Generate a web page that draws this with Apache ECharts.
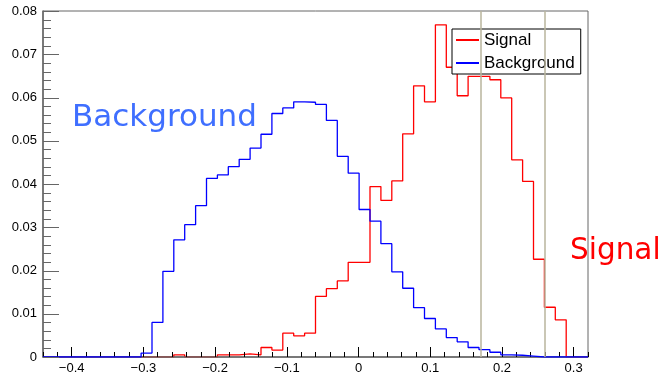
<!DOCTYPE html>
<html>
<head>
<meta charset="utf-8">
<script src="https://cdn.jsdelivr.net/npm/echarts@6/dist/echarts.min.js"></script>
<style>
  html, body { margin: 0; padding: 0; background: #fff; }
  #chart { width: 663px; height: 375px; }
</style>
</head>
<body>
<div id="chart"></div>
<script>
// Histogram binning: 50 bins on [-0.44, 0.32]
const X_MIN = -0.44;
const X_MAX = 0.32;
const N_BINS = 50;

// Bin contents (normalised), one entry per bin, left to right
const signal = [
  0, 0, 0, 0, 0, 0, 0, 0, 0, 0,
  0, 0, 0.0005, 0, 0, 0, 0.0005, 0.0005, 0.0007, 0.0005,
  0.0022, 0.0016, 0.0055, 0.0049, 0.0055, 0.0140, 0.0158, 0.0176, 0.0219, 0.0219,
  0.0394, 0.0362, 0.0407, 0.0516, 0.0627, 0.0590, 0.0768, 0.0670, 0.0604, 0.0649,
  0.0649, 0.0641, 0.0599, 0.0456, 0.0406, 0.0226, 0.0115, 0.0086, 0, 0
];
const background = [
  0, 0, 0, 0, 0, 0, 0, 0, 0, 0.0009,
  0.0080, 0.0198, 0.0271, 0.0306, 0.0350, 0.0413, 0.0421, 0.0440, 0.0457, 0.0483,
  0.0515, 0.0563, 0.0576, 0.0590, 0.0589, 0.0584, 0.0547, 0.0464, 0.0425, 0.0341,
  0.0314, 0.0262, 0.0197, 0.0159, 0.0114, 0.0089, 0.0065, 0.0045, 0.0035, 0.0022,
  0.0017, 0.0011, 0.0005, 0.0004, 0.0002, 0, 0, 0, 0, 0
];

// Cut positions
const cuts = [0.168, 0.258];

// Axis tick labels
const xTicks = [-0.4, -0.3, -0.2, -0.1, 0, 0.1, 0.2, 0.3];
const yTicks = [0, 0.01, 0.02, 0.03, 0.04, 0.05, 0.06, 0.07, 0.08];

const binWidth = (X_MAX - X_MIN) / N_BINS;

// Step-line points: one per bin low edge, plus the final upper edge
function toSteps(values) {
  const pts = values.map((v, i) => [X_MIN + i * binWidth, v]);
  pts.push([X_MAX, values[values.length - 1]]);
  return pts;
}

// Minor x ticks every 0.02, skipping the labelled ones
const xMinor = [];
for (let i = -22; i <= 16; i++) {
  if (i % 5 !== 0) xMinor.push(i / 50);
}
// Minor y ticks every 0.002, skipping the labelled ones
const yMinor = [];
for (let i = 1; i < 40; i++) {
  if (i % 5 !== 0) yMinor.push(i / 500);
}

const chart = echarts.init(document.getElementById('chart'), null, { renderer: 'canvas' });

const axisColor = '#666';
const labelFont = { fontFamily: 'Liberation Sans', fontSize: 13, color: '#000' };

chart.setOption({
  animation: false,
  backgroundColor: '#fff',
  grid: {
    left: 43, right: 75, top: 11, bottom: 17,
    show: true, borderColor: axisColor, borderWidth: 1, backgroundColor: 'transparent'
  },
  xAxis: [
    {
      type: 'value', min: X_MIN, max: X_MAX, z: 2,
      axisLine: { show: true, onZero: false, lineStyle: { color: axisColor, width: 1.5 } },
      axisTick: { show: true, inside: true, length: 10, customValues: xTicks,
                  lineStyle: { color: '#000', width: 1 } },
      axisLabel: {
        show: true, margin: 5, customValues: xTicks, ...labelFont,
        formatter: v => (Math.abs(v) < 1e-9 ? '0' : String(+v.toFixed(1)).replace('-', '\u2212'))
      },
      splitLine: { show: false }
    },
    {
      type: 'value', min: X_MIN, max: X_MAX, position: 'bottom', z: 2,
      axisLine: { show: false, onZero: false },
      axisTick: { show: true, inside: true, length: 5, customValues: xMinor,
                  lineStyle: { color: '#000', width: 1 } },
      axisLabel: { show: false },
      splitLine: { show: false }
    }
  ],
  yAxis: {
    type: 'value', min: yTicks[0], max: yTicks[yTicks.length - 1], position: 'left', z: 2,
    axisLine: { show: true, onZero: false, lineStyle: { color: axisColor, width: 1.5 } },
    axisTick: { show: false },
    axisLabel: {
      show: true, margin: 6, customValues: yTicks, ...labelFont,
      formatter: v => (Math.abs(v) < 1e-9 ? '0' : v.toFixed(2))
    },
    splitLine: { show: false }
  },
  legend: {
    data: ['Signal', 'Background'],
    orient: 'vertical',
    left: 452, top: 29,
    width: 130,
    padding: [2, 6, 2, 4],
    itemGap: 5,
    itemWidth: 23, itemHeight: 2,
    icon: 'rect',
    backgroundColor: '#fff',
    borderColor: '#000', borderWidth: 1,
    borderRadius: 0,
    textStyle: { fontFamily: 'Liberation Sans', fontSize: 17, color: '#000', padding: [0, 0, 0, 0], lineHeight: 18 },
    z: 4
  },
  graphic: [
    {
      id: 'label-bkg', type: 'text', x: 72, y: 118, z: 1,
      style: { text: 'Background', font: '31px "DejaVu Sans"', fill: '#3f6fff', align: 'left', verticalAlign: 'middle' }
    },
    {
      id: 'label-sig', type: 'text', x: 570, y: 251, z: 1,
      style: { text: 'Signal', font: '29.5px "DejaVu Sans"', fill: '#ff0000', align: 'left', verticalAlign: 'middle' }
    }
  ],
  series: [
    {
      name: 'Signal', type: 'line', step: 'end', symbol: 'none', z: 1,
      data: toSteps(signal),
      lineStyle: { color: '#ff0000', width: 1.3 },
      itemStyle: { color: '#ff0000' }
    },
    {
      name: 'Background', type: 'line', step: 'end', symbol: 'none', z: 3,
      data: toSteps(background),
      lineStyle: { color: '#0000ff', width: 1.3 },
      itemStyle: { color: '#0000ff' }
    },
    {
      name: 'cuts', type: 'line', data: [], z: 6,
      markLine: {
        silent: true, symbol: 'none', z: 6,
        label: { show: false },
        lineStyle: { color: '#b9b59d', width: 1.5, type: 'solid' },
        data: cuts.map(c => ({ xAxis: c }))
      }
    }
  ]
});

// Inward y tick marks on the left frame, placed through the y axis scale
const frameX = chart.convertToPixel({ xAxisIndex: 0 }, X_MIN);
function tickLine(id, value, length) {
  const y = Math.round(chart.convertToPixel({ yAxisIndex: 0 }, value)) + 0.5;
  return {
    id: id, type: 'line', z: 10, silent: true,
    shape: { x1: frameX, y1: y, x2: frameX + length, y2: y },
    style: { stroke: axisColor, lineWidth: 1 }
  };
}
chart.setOption({
  graphic: yTicks.map((v, i) => tickLine('ymaj-' + i, v, 16))
    .concat(yMinor.map((v, i) => tickLine('ymin-' + i, v, 8)))
});
</script>
</body>
</html>
